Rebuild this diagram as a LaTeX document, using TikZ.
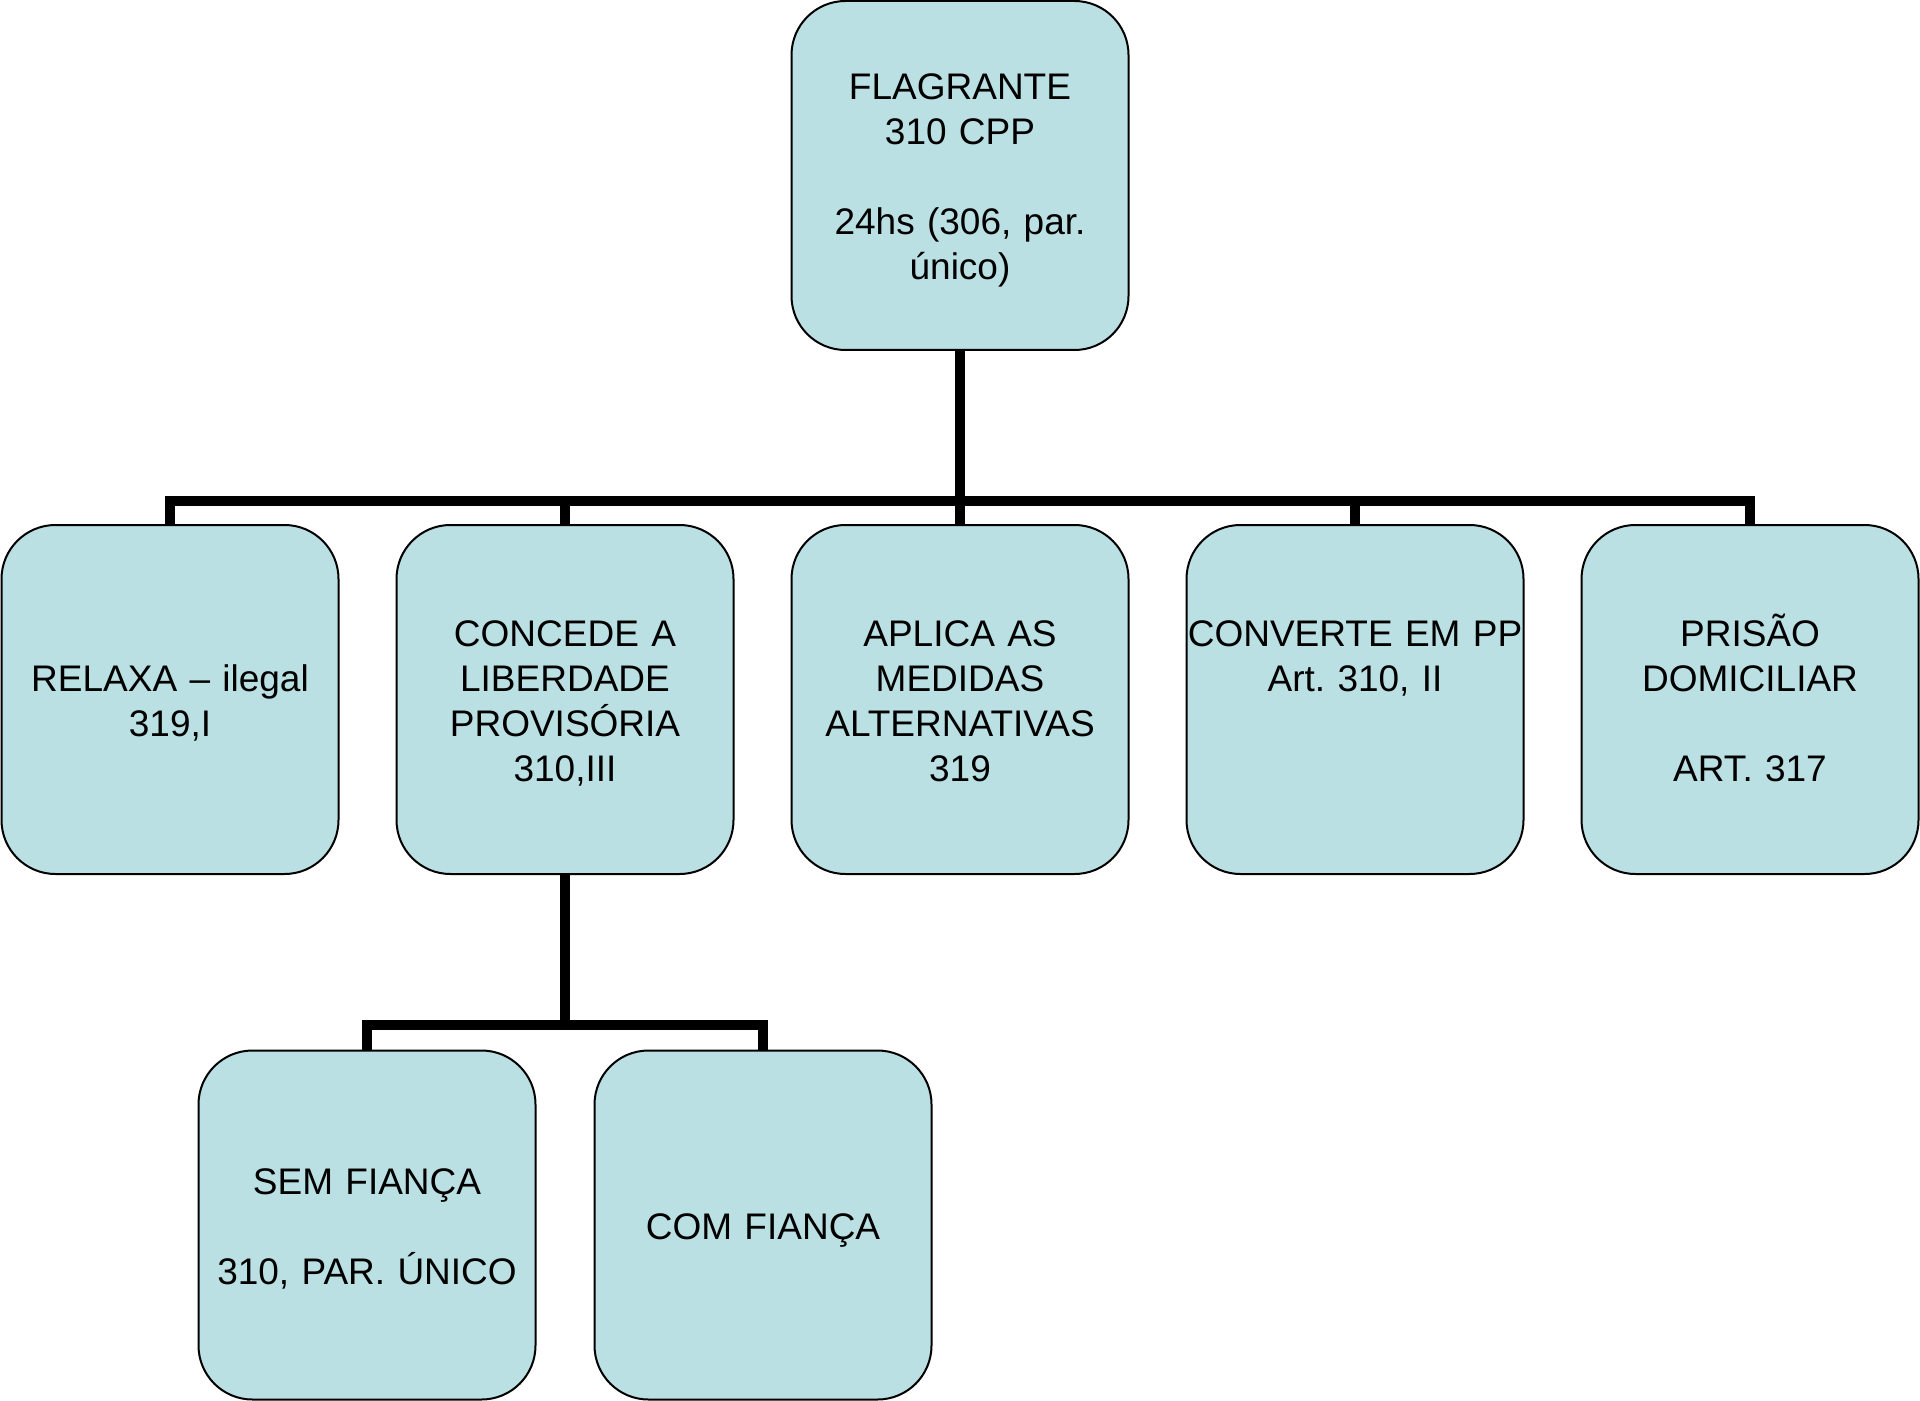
\documentclass[tikz,border=0pt]{standalone}
\usepackage{fontspec}
\setmainfont{Liberation Sans}
\usepackage{tikz}
\definecolor{boxfill}{HTML}{BAE0E3}
\frenchspacing

\tikzset{
    box/.style = {rectangle, rounded corners=27pt, draw=black, line width=1pt, fill=boxfill,
        minimum width=168.5pt, minimum height=174.5pt, text width=166pt, align=center,
        inner sep=0pt, font=\fontsize{18.5}{22.5}\selectfont,
        execute at begin node={\rule{0pt}{18.3pt}},
        execute at end node={\rule[-4pt]{0pt}{0pt}}}
}

\begin{document}
\begin{tikzpicture} [
    every node/.style = {box},
    level 1/.style={sibling distance=197.5pt, level distance=262pt},
    level 2/.style={sibling distance=198pt, level distance=262.75pt},
    edge from parent/.style={draw, line width=5pt},
    edge from parent path={(\tikzparentnode.south) -- ++(0,-75pt) -| (\tikzchildnode.north)}
]
    \useasboundingbox (0,0) rectangle (960pt,-700.5pt);
    \node (flagrante) at (480pt,-87.75pt) {FLAGRANTE\\310 CPP\\~\\24hs (306, par.\\único)}
    child {
        node (relaxa) {RELAXA – ilegal\\319,I}
    }
    child {
        node (concede) {CONCEDE A\\LIBERDADE\\PROVISÓRIA\\310,III}
        child { node (semfianca) {SEM FIANÇA\\~\\310, PAR. ÚNICO} }
        child { node (comfianca) {COM FIANÇA} }
    }
    child {
        node (aplica) {APLICA AS\\MEDIDAS\\ALTERNATIVAS\\319}
    }
    child {
        node (converte) {\makebox[\linewidth]{CONVERTE EM PP}\\Art. 310, II\\~\\~}
    }
    child {
        node (domiciliar) {PRISÃO\\DOMICILIAR\\~\\ART. 317}
    };
\end{tikzpicture}
\end{document}
